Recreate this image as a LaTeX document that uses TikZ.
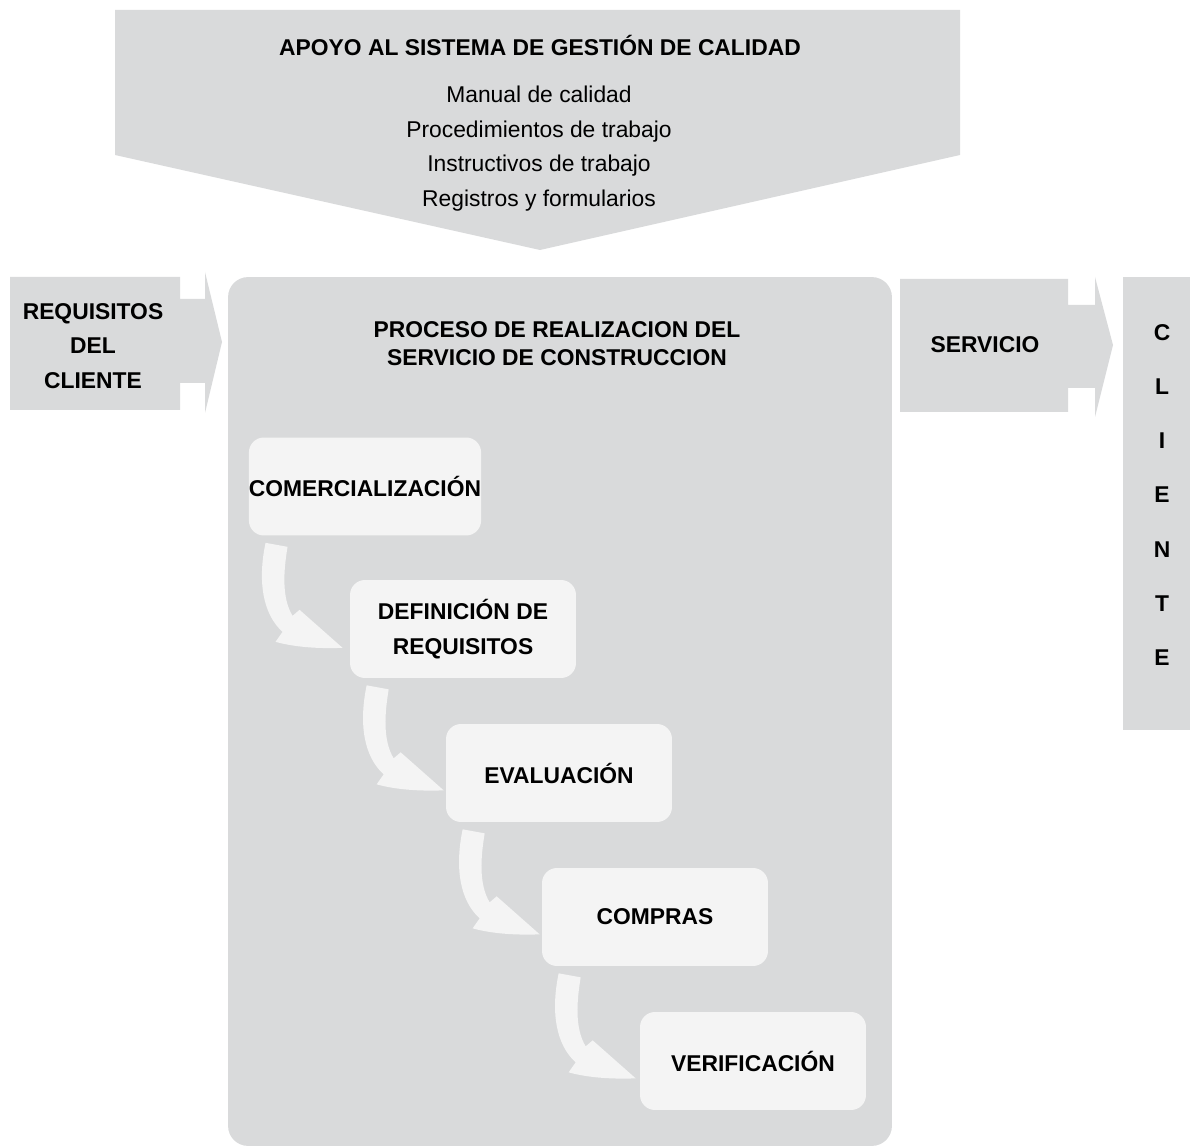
\documentclass[tikz,border=0pt]{standalone}
\usepackage{fontspec}
\setmainfont{Liberation Sans}
\usetikzlibrary{positioning,calc}
\definecolor{fondo}{RGB}{217,218,219}
\definecolor{caja}{RGB}{244,244,244}

\begin{document}
\begin{tikzpicture}[
    x=0.02cm, y=-0.02cm,
    titulo/.style={font=\fontsize{13}{19.6}\selectfont\bfseries,align=center,inner sep=0pt},
    texto/.style={font=\fontsize{13}{19.6}\selectfont,align=center,inner sep=0pt},
    etapa/.style={fill=caja,rounded corners=0.3cm,minimum width=4.52cm,minimum height=1.96cm,align=center,inner sep=0pt,font=\fontsize{13}{19.6}\selectfont\bfseries},
    flecha/.pic={
        \fill[caja] (17,7) -- (39,11) .. controls (35,35) and (33,62) .. (44,80)
            -- (51,74) -- (94,112) .. controls (68,113) and (45,111) .. (27,106)
            -- (34,96) .. controls (14,78) and (9,45) .. (17,7) -- cycle;
    },
]
    \useasboundingbox (0,0) rectangle (1190,1148);

    % apoyo (arriba)
    \fill[fondo] (115,10) -- (960,10) -- (960,155) -- (540,250) -- (115,155) -- cycle;
    \node[titulo] (apoyo) at (540,45) {APOYO AL SISTEMA DE GESTIÓN DE CALIDAD};
    \node[texto] (docs) at (539,148.5) {Manual de calidad\\Procedimientos de trabajo\\Instructivos de trabajo\\Registros y formularios};

    % entrada y salida
    \fill[fondo] (10,277) -- (180,277) -- (180,299) -- (205,299) -- (205,272) -- (222,342)
        -- (205,413) -- (205,383) -- (180,383) -- (180,410) -- (10,410) -- cycle;
    \node[titulo] (requisitos) at (93,346) {REQUISITOS\\DEL\\CLIENTE};
    \fill[fondo] (900,279) -- (1068,279) -- (1068,305) -- (1095,305) -- (1095,277) -- (1113,345)
        -- (1095,417) -- (1095,388) -- (1068,388) -- (1068,412) -- (900,412) -- cycle;
    \node[titulo] (servicio) at (985,345) {SERVICIO};
    \node[fill=fondo,minimum width=1.34cm,minimum height=9.06cm,inner sep=0pt] (cliente) at (1156.5,503.5) {};
    \node[font=\fontsize{13}{30.8}\selectfont\bfseries,align=center,inner sep=0pt] at (1162,495) {C\\L\\I\\E\\N\\T\\E};

    % proceso
    \node[fill=fondo,rounded corners=0.4cm,minimum width=13.28cm,minimum height=17.38cm] (proceso) at (560,711.5) {};
    \node[font=\fontsize{13}{16}\selectfont\bfseries,align=center,inner sep=0pt] (proctit) at (557,344) {PROCESO DE REALIZACION DEL\\SERVICIO DE CONSTRUCCION};

    \node[etapa] (b1) at (365,486.5) {COMERCIALIZACIÓN};
    \node[etapa] (b2) at ($(b1)+(98,142.5)$) {DEFINICIÓN DE\\REQUISITOS};
    \node[etapa] (b3) at ($(b2)+(96,144)$) {EVALUACIÓN};
    \node[etapa] (b4) at ($(b3)+(96,144)$) {COMPRAS};
    \node[etapa] (b5) at ($(b4)+(98,144)$) {VERIFICACIÓN};

    \foreach \a in {b1,b2,b3,b4}
        \pic at (\a.south west) {flecha};
\end{tikzpicture}
\end{document}
